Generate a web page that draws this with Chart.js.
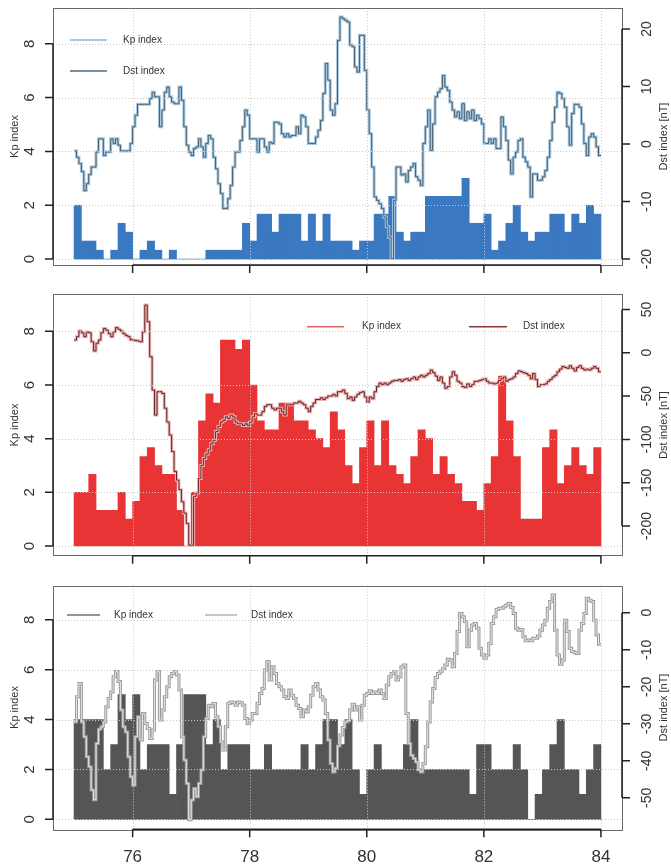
<!DOCTYPE html>
<html>
<head>
<meta charset="utf-8">
<script src="https://cdn.jsdelivr.net/npm/chart.js@4.4.1/dist/chart.umd.min.js"></script>
<style>
  html, body { margin: 0; padding: 0; background: #fff; }
  #wrap { position: relative; width: 671px; height: 865px; }
  .panel { position: absolute; left: 0; width: 671px; }
</style>
</head>
<body>
<div id="wrap">
  <div class="panel" style="top:0;height:285px"><canvas id="c1"></canvas></div>
  <div class="panel" style="top:285px;height:285px"><canvas id="c2"></canvas></div>
  <div class="panel" style="top:570px;height:295px"><canvas id="c3"></canvas></div>
</div>
<script>
// time axis: day of year, Kp every 3 h, Dst every hour
const dayStart = 75;
const kpHours = 3;
const dstHours = 1;
const xTicks = [76, 78, 80, 82, 84];
const kpTicks = [0, 2, 4, 6, 8];
const dstTicks1 = [-20, -10, 0, 10, 20];
const dstTicks2 = [-200, -150, -100, -50, 0, 50];
const dstTicks3 = [-50, -40, -30, -20, -10, 0];

const kp1 = [2, 0.67, 0.67, 0.33, 0, 0.33, 1.33, 1, 0, 0.33, 0.67, 0.33, 0, 0.33, 0, 0, 0, 0,
  0.33, 0.33, 0.33, 0.33, 0.33, 1.33, 0.67, 1.67, 1.67, 1, 1.67, 1.67, 1.67, 0.67, 1.67, 0.67, 1.67, 0.67,
  0.67, 0.67, 0.33, 0.67, 0.67, 1.67, 1.67, 2.33, 1, 0.67, 1, 1, 2.33, 2.33, 2.33, 2.33, 2.33, 3,
  1.33, 1.33, 1.67, 0.33, 0.67, 1.33, 2, 1, 0.67, 1, 1, 1.67, 1.67, 1, 1.67, 1.33, 2, 1.67];

const dst1 = [-1.2, -2.3, -3.4, -4.8, -8.1, -6.9, -5.3, -4.0, -4.0, -1.4,
  0.9, 0.9, -2.0, -1.4, -1.4, 0.9, 0.1, 0.9, -0.2, -1.2,
  -1.2, -1.2, -1.2, 0.1, 3.0, 5.0, 6.9, 6.9, 6.9, 6.9,
  6.9, 7.9, 9.0, 8.2, 8.2, 3.0, 5.9, 9.0, 9.9, 8.2,
  7.3, 7.0, 7.0, 9.9, 7.6, 3.0, -0.2, -1.4, -2.0, -0.8,
  -0.5, 0.9, -0.5, -2.3, 0.1, 1.5, 0.9, -2.3, -4.3, -6.9,
  -8.6, -11.2, -11.2, -9.5, -7.2, -4.0, -1.4, -1.4, 0.6, 3.0,
  5.9, 5.0, 0.9, 0.9, 0.9, -1.4, 0.9, 0.9, -0.5, -1.4,
  0.3, 0.1, 3.8, 3.8, 3.5, 1.8, 1.2, 1.8, 1.2, 1.5,
  1.5, 3.0, 1.8, 5.0, 4.7, 3.0, 0.1, 0.1, 0.1, 1.2,
  2.4, 4.1, 8.8, 14.0, 11.1, 5.9, 5.0, 7.0, 18.0, 22.1,
  21.8, 21.5, 21.2, 17.2, 16.9, 13.4, 12.5, 18.9, 18.9, 12.8,
  5.9, 1.8, -4.0, -9.2, -9.8, -10.4, -11.2, -12.7, -14.4, -16.2,
  -19.9, -9.8, -4.0, -4.0, -5.4, -5.2, -6.6, -4.6, -4.0, -3.4,
  -5.7, -6.3, -7.2, 0.1, 3.0, 5.9, -1.1, 3.5, 8.2, 9.0,
  9.6, 11.9, 9.9, 9.3, 7.3, 5.9, 4.7, 5.6, 4.4, 7.0,
  4.1, 5.6, 4.4, 5.9, 4.1, 5.0, 4.4, 3.5, 0.1, 0.1,
  0.9, 0.1, 0.9, -0.8, -0.8, 4.7, 3.0, 0.6, -2.8, -5.2,
  -2.3, -1.4, 0.6, 0.9, -2.3, -3.1, -4.0, -9.2, -5.2, -5.2,
  -6.3, -6.3, -5.7, -4.6, -2.3, 0.6, 3.8, 6.4, 9.0, 8.8,
  7.9, 6.4, 3.0, -0.2, 5.3, 6.9, 6.9, 6.4, 3.5, 0.1,
  -2.0, 1.2, 1.8, 1.2, -0.5, -2.0];

const kp2 = [2, 2, 2.67, 1.33, 1.33, 1.33, 2, 1, 1.67, 3.33, 3.67, 3, 2.67, 2.67, 1.33, 0, 2, 4.67,
  5.67, 5.33, 7.67, 7.67, 7.33, 7.67, 6, 4.67, 4.33, 4.33, 5.33, 5.33, 4.67, 4.67, 4.33, 4, 3.67, 5,
  4.33, 3, 2.33, 3.67, 4.67, 3, 4.67, 3, 2.67, 2.33, 3.33, 4.33, 4, 2.67, 3.33, 2.67, 2.33, 1.67,
  1.67, 1.33, 2.33, 3.33, 6.33, 4.67, 3.33, 1, 1, 1, 3.67, 4.33, 2.33, 3, 3.67, 3, 2.67, 3.67];

const dst2 = [14.6, 18.5, 25, 23, 18.5, 24, 23, 12.7, 2, 11,
  14.6, 23, 28, 26, 22, 18.5, 24, 29, 27, 25,
  22, 20, 18.5, 15, 14.6, 14, 13.5, 12.7, 24, 55,
  35.8, -4.6, -43, -72, -45, -45, -47, -64, -80, -95,
  -114, -137, -147, -158, -172, -185, -197, -222, -222, -166,
  -162, -145, -130, -122, -117, -112, -105, -101, -91, -85,
  -80, -78, -74, -76, -72, -74, -80, -82, -82, -84,
  -82, -84, -80, -74, -70, -72, -72, -68, -62, -60,
  -60, -64, -66, -64, -64, -68, -72, -60, -60, -60,
  -58, -58, -56, -58, -60, -64, -68, -62, -58, -54,
  -54, -52, -54, -52, -50, -50, -48, -50, -45, -45,
  -43, -47, -53, -51, -55, -51, -48, -46, -45, -51,
  -57, -51, -53, -45, -39, -35, -37, -35, -37, -35,
  -33, -32, -32, -31, -33, -31, -30, -32, -30, -28,
  -31, -28, -26, -28, -26, -24, -20, -23, -27, -32,
  -28, -35, -41, -39, -28, -22, -26, -33, -35, -39,
  -40, -36, -39, -37, -33, -33, -32, -31, -30, -33,
  -35, -35, -36, -35, -32, -30, -28, -33, -31, -30,
  -28, -24, -21, -22, -23, -24, -26, -30, -24, -31,
  -39, -37, -37, -36, -33, -31, -28, -26, -22, -19,
  -16, -17, -18, -15, -18, -21, -17, -15, -18, -20,
  -19, -20, -18, -16, -18, -22];

const kp3 = [4, 4, 4, 4, 2, 3, 5, 4, 5, 2, 3, 3, 3, 1, 3, 5, 5, 5, 3, 4, 2, 3, 3, 3,
  2, 2, 3, 2, 2, 2, 2, 3, 2, 3, 4, 4, 3, 4, 2, 1, 2, 3, 2, 2, 2, 3, 4, 2,
  2, 2, 2, 2, 2, 2, 1, 3, 3, 2, 2, 2, 3, 2, 0, 1, 2, 3, 4, 2, 2, 1, 2, 3];

const dst3 = [-29.5, -22.7, -19.1, -29.5, -33.5, -38.9, -41.6, -47.9, -50.5, -35.3,
  -31.5, -30.8, -29.5, -25.4, -23.2, -21.4, -17.3, -15.9, -18.6, -26.3,
  -30.8, -32.2, -38.9, -44.3, -46.6, -33.5, -28.1, -34.4, -27.2, -29.9,
  -31.3, -34.0, -31.7, -18.2, -15.9, -29.0, -26.3, -22.7, -20.0, -17.3,
  -16.4, -15.9, -16.8, -20.9, -33.5, -39.8, -46.1, -55.9, -50.6, -47.5,
  -49.7, -46.1, -42.5, -33.5, -28.6, -25.0, -25.4, -24.5, -28.1, -30.8,
  -34.9, -37.1, -30.8, -24.5, -24.1, -24.3, -25.0, -24.1, -24.3, -25.0,
  -28.6, -29.9, -29.0, -27.2, -27.2, -24.5, -21.8, -20.5, -15.5, -13.2,
  -18.2, -14.6, -16.4, -19.1, -20.0, -20.9, -22.7, -23.2, -20.9, -22.3,
  -23.2, -25.0, -25.9, -28.1, -26.3, -26.8, -25.4, -22.3, -20.0, -19.1,
  -20.9, -22.7, -23.6, -27.2, -34.4, -40.7, -43.0, -42.0, -36.0, -33.0,
  -31.0, -29.5, -29.2, -26.3, -24.7, -26.3, -25.4, -29.0, -25.0, -22.3,
  -21.8, -21.1, -21.8, -21.4, -21.8, -20.9, -21.8, -23.2, -19.5, -17.3,
  -16.4, -15.9, -18.2, -17.3, -14.6, -14.1, -27.2, -35.3, -38.5, -39.4,
  -40.3, -42.5, -43.0, -40.7, -36.2, -29.5, -24.1, -20.5, -17.5, -16.4,
  -15.8, -15.1, -14.1, -12.6, -12.8, -14.6, -11.0, -5.1, -0.2, -1.1,
  -2.4, -9.2, -4.7, -3.3, -2.9, -4.2, -9.6, -11.4, -12.3, -11.4,
  -8.3, -2.9, -1.1, 0.9, 1.2, 1.2, 1.6, 2.1, 2.5, 1.4,
  -0.2, -4.2, -4.7, -4.5, -6.5, -7.6, -7.4, -7.6, -6.9, -6.9,
  -6.3, -4.7, -3.3, -2.0, 1.2, 3.0, 4.8, -4.7, -11.4, -13.9,
  -12.8, -2.0, -5.1, -9.6, -10.5, -10.8, -11.0, -4.7, -2.9, -0.2,
  3.9, 3.4, 3.0, -2.0, -6.0, -8.5];

const FONT = '"Liberation Sans", Arial, sans-serif';

const panels = [
  {
    id: 'c1', height: 285, top: 8, bottom: 265,
    kp: kp1, dst: dst1, dstTicks: dstTicks1,
    kpRange: [-0.22, 9.33], dstRange: [-21.04, 23.65],
    barColor: '#3a78c2', haloColor: '#a9c9e2', coreColor: '#44606f',
    legend: [
      { x1: 70, x2: 107, y: 40, tx: 123, color: '#86b6de', label: 'Kp index' },
      { x1: 70, x2: 107, y: 71, tx: 123, color: '#4c6c82', label: 'Dst index' }
    ],
    xLabels: false
  },
  {
    id: 'c2', height: 285, top: 9.3, bottom: 270.7,
    kp: kp2, dst: dst2, dstTicks: dstTicks2,
    kpRange: [-0.36, 9.38], dstRange: [-234.2, 67.4],
    barColor: '#e83434', haloColor: '#e9b4b4', coreColor: '#6a2424',
    legend: [
      { x1: 307, x2: 344, y: 41.7, tx: 362, color: '#e06464', label: 'Kp index' },
      { x1: 469, x2: 507, y: 41.7, tx: 523, color: '#8a3636', label: 'Dst index' }
    ],
    xLabels: false
  },
  {
    id: 'c3', height: 295, top: 15.7, bottom: 259.3,
    kp: kp3, dst: dst3, dstTicks: dstTicks3,
    kpRange: [-0.4, 9.37], dstRange: [-58.5, 7.3],
    barColor: '#555555', haloColor: '#9c9c9c', coreColor: '#e6e6e6',
    legend: [
      { x1: 67, x2: 100, y: 45, tx: 114, color: '#707070', label: 'Kp index' },
      { x1: 205, x2: 237, y: 45, tx: 251, color: '#b4b4b4', label: 'Dst index' }
    ],
    xLabels: true
  }
];

function vText(ctx, text, x, y) {
  ctx.save();
  ctx.translate(x, y);
  ctx.rotate(-Math.PI / 2);
  ctx.textAlign = 'center';
  ctx.textBaseline = 'middle';
  ctx.fillText(text, 0, 0);
  ctx.restore();
}

const framePlugin = {
  id: 'frame',
  afterDatasetsDraw(chart, args, opts) {
    const p = opts.panel;
    const ctx = chart.ctx;
    const a = chart.chartArea;
    const xs = chart.scales.x, yk = chart.scales.yKp, yd = chart.scales.yDst;
    ctx.save();

    // dotted grid
    ctx.strokeStyle = '#c9c9c9';
    ctx.lineWidth = 1;
    ctx.setLineDash([1, 2]);
    xTicks.forEach(v => {
      const x = Math.round(xs.getPixelForValue(v)) + 0.5;
      ctx.beginPath(); ctx.moveTo(x, a.top); ctx.lineTo(x, a.bottom); ctx.stroke();
    });
    kpTicks.forEach(v => {
      const y = Math.round(yk.getPixelForValue(v)) + 0.5;
      ctx.beginPath(); ctx.moveTo(a.left, y); ctx.lineTo(a.right, y); ctx.stroke();
    });
    ctx.setLineDash([]);

    // box
    ctx.strokeStyle = '#6a6a6a';
    ctx.strokeRect(Math.round(a.left) + 0.5, Math.round(a.top) + 0.5,
      Math.round(a.right - a.left), Math.round(a.bottom - a.top));

    // axes
    ctx.strokeStyle = '#222';
    ctx.lineWidth = 1.5;
    const tl = 8;
    // left Kp axis
    ctx.beginPath();
    ctx.moveTo(a.left, yk.getPixelForValue(kpTicks[0]));
    ctx.lineTo(a.left, yk.getPixelForValue(kpTicks[kpTicks.length - 1]));
    kpTicks.forEach(v => {
      const y = yk.getPixelForValue(v);
      ctx.moveTo(a.left, y); ctx.lineTo(a.left - tl, y);
    });
    ctx.stroke();
    // right Dst axis
    const dt = p.dstTicks;
    ctx.beginPath();
    ctx.moveTo(a.right, yd.getPixelForValue(dt[0]));
    ctx.lineTo(a.right, yd.getPixelForValue(dt[dt.length - 1]));
    dt.forEach(v => {
      const y = yd.getPixelForValue(v);
      ctx.moveTo(a.right, y); ctx.lineTo(a.right + tl, y);
    });
    ctx.stroke();
    // bottom x axis
    ctx.beginPath();
    ctx.moveTo(xs.getPixelForValue(xTicks[0]), a.bottom);
    ctx.lineTo(xs.getPixelForValue(xTicks[xTicks.length - 1]), a.bottom);
    xTicks.forEach(v => {
      const x = xs.getPixelForValue(v);
      ctx.moveTo(x, a.bottom); ctx.lineTo(x, a.bottom + tl);
    });
    ctx.stroke();

    // tick labels
    ctx.fillStyle = '#333';
    ctx.font = '15px ' + FONT;
    kpTicks.forEach(v => vText(ctx, String(v), a.left - 23, yk.getPixelForValue(v)));
    ctx.font = '14px ' + FONT;
    dt.forEach(v => vText(ctx, String(v), a.right + 25, yd.getPixelForValue(v)));
    if (p.xLabels) {
      ctx.font = '17px ' + FONT;
      ctx.textAlign = 'center';
      ctx.textBaseline = 'middle';
      xTicks.forEach(v => ctx.fillText(String(v), xs.getPixelForValue(v), a.bottom + 28));
    }

    // axis titles
    ctx.font = '11px ' + FONT;
    const mid = (a.top + a.bottom) / 2;
    vText(ctx, 'Kp index', 15, mid);
    vText(ctx, 'Dst index [nT]', 664, mid);

    // legend
    ctx.font = '10px ' + FONT;
    ctx.textAlign = 'left';
    ctx.textBaseline = 'middle';
    p.legend.forEach(it => {
      ctx.strokeStyle = it.color;
      ctx.lineWidth = 1.5;
      ctx.beginPath(); ctx.moveTo(it.x1, it.y); ctx.lineTo(it.x2, it.y); ctx.stroke();
      ctx.fillStyle = '#333';
      ctx.fillText(it.label, it.tx, it.y);
    });
    ctx.restore();
  }
};

function makeChart(p) {
  const kpStep = kpHours / 24, dstStep = dstHours / 24;
  const bars = p.kp.map((v, i) => ({ x: dayStart + (i + 0.5) * kpStep, y: v }));
  const line = p.dst.map((v, i) => ({ x: dayStart + i * dstStep, y: v }));
  line.push({ x: dayStart + p.dst.length * dstStep, y: p.dst[p.dst.length - 1] });

  return new Chart(document.getElementById(p.id).getContext('2d'), {
    type: 'bar',
    data: {
      datasets: [
        {
          type: 'line', label: 'Dst index', yAxisID: 'yDst', data: line,
          stepped: true, borderColor: p.coreColor, borderWidth: 1,
          pointRadius: 0, fill: false, order: 0
        },
        {
          type: 'line', label: 'Dst outline', yAxisID: 'yDst', data: line,
          stepped: true, borderColor: p.haloColor, borderWidth: 3,
          pointRadius: 0, fill: false, order: 1
        },
        {
          type: 'bar', label: 'Kp index', yAxisID: 'yKp', data: bars,
          backgroundColor: p.barColor, borderWidth: 0,
          barPercentage: 1, categoryPercentage: 1, order: 2
        }
      ]
    },
    options: {
      responsive: true, maintainAspectRatio: false, animation: false,
      layout: { padding: { left: 53, right: 49, top: p.top, bottom: p.height - p.bottom } },
      plugins: { legend: { display: false }, tooltip: { enabled: false }, frame: { panel: p } },
      scales: {
        x: { type: 'linear', min: 74.64, max: 84.36, offset: false, display: false },
        yKp: { type: 'linear', position: 'left', min: p.kpRange[0], max: p.kpRange[1], display: false },
        yDst: { type: 'linear', position: 'right', min: p.dstRange[0], max: p.dstRange[1], display: false }
      }
    },
    plugins: [framePlugin]
  });
}

panels.forEach(makeChart);
</script>
</body>
</html>
